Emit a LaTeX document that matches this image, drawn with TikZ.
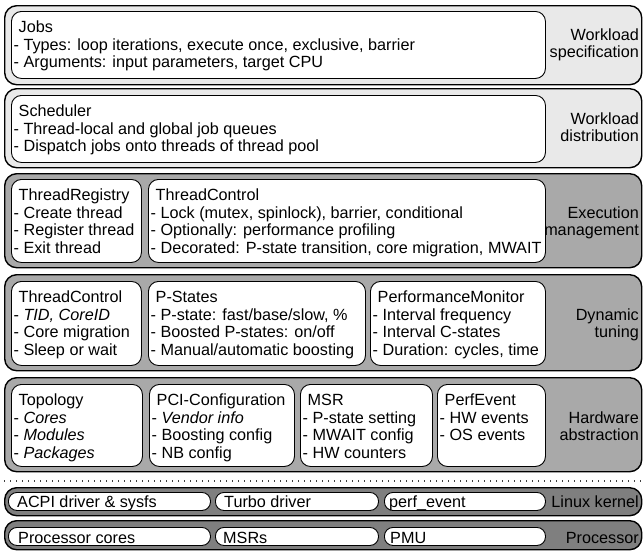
\documentclass[tikz,border=0pt]{standalone}
\usepackage{fontspec}
\setmainfont{Liberation Sans}
\definecolor{bandlight}{HTML}{E9E9E9}
\definecolor{bandmid}{HTML}{A9A9A9}
\definecolor{banddark}{HTML}{7F7F7F}
\newcommand\mkbox[6]{\node[#2, anchor=north west, inner sep=0pt, minimum width={#5-#3}, minimum height={#6-#4}] (#1) at (#3,#4) {};}
\newcommand\ttl[1]{\strut\hspace*{5pt}#1}
\begin{document}
\begin{tikzpicture}[x=1pt,y=-1pt,
  band/.style={draw=black, line width=1.4pt, rounded corners=12pt},
  inbox/.style={draw=black, fill=white, line width=0.9pt, rounded corners=10pt},
  pill/.style={draw=black, fill=white, line width=0.9pt, rounded corners=8.5pt},
  txt/.style={anchor=north west, inner sep=0pt, align=left, font=\fontsize{16.2}{17.5}\selectfont},
  lbl/.style={anchor=north east, inner sep=0pt, align=right, font=\fontsize{16.2}{17.5}\selectfont},
  ptxt/.style={anchor=base west, inner sep=0pt, font=\fontsize{16.2}{17.5}\selectfont},
  plbl/.style={anchor=base east, inner sep=0pt, font=\fontsize{16.2}{17.5}\selectfont},
  dotline/.style={line width=1.2pt, black!75, dash pattern=on 1.2pt off 4.8pt}
]
\useasboundingbox (0,0) rectangle (644,550);
% bands
\mkbox{bandA}{band, fill=bandlight}{4}{5}{641}{84}
\mkbox{bandB}{band, fill=bandlight}{4}{88}{641}{167}
\mkbox{bandC}{band, fill=bandmid}{4}{173}{641}{267}
\mkbox{bandD}{band, fill=bandmid}{4}{274}{641}{370}
\mkbox{bandE}{band, fill=bandmid}{4}{377}{641}{471}
\coordinate (dl) at (4,481);
\coordinate (dr) at (641,481);
\draw[dotline] (dl) -- (dr);
\mkbox{bandF}{band, fill=banddark}{4}{487}{641}{515}
\mkbox{bandG}{band, fill=banddark}{4}{520}{641}{549}
% inner boxes
\mkbox{jobs}{inbox}{11}{11}{545}{78}
\mkbox{sched}{inbox}{11}{95}{545}{162}
\mkbox{treg}{inbox}{11}{179}{141}{262}
\mkbox{tctl}{inbox}{148}{179}{545}{262}
\mkbox{tctlb}{inbox}{11}{281}{141}{365}
\mkbox{pst}{inbox}{148}{281}{365}{365}
\mkbox{pmon}{inbox}{370}{281}{545}{365}
\mkbox{topo}{inbox}{11}{384}{142}{466}
\mkbox{pci}{inbox}{149}{384}{294}{466}
\mkbox{msr}{inbox}{300}{384}{432}{466}
\mkbox{pev}{inbox}{437}{384}{545}{466}
% pills
\mkbox{acpi}{pill}{8}{492}{210}{510}
\mkbox{turbo}{pill}{215}{492}{378}{510}
\mkbox{perf}{pill}{384}{492}{545}{510}
\mkbox{cores}{pill}{8}{527}{210}{545}
\mkbox{msrs}{pill}{215}{527}{378}{545}
\mkbox{pmu}{pill}{384}{527}{545}{545}
% texts
\node[txt] (jobst) at (13.5,20.25) {\ttl{Jobs}\\- Types: loop iterations, execute once, exclusive, barrier\\- Arguments: input parameters, target CPU};
\node[txt] (schedt) at (13.5,104.25) {\ttl{Scheduler}\\- Thread-local and global job queues\\- Dispatch jobs onto threads of thread pool};
\node[txt] (tregt) at (13.5,188.25) {\ttl{ThreadRegistry}\\- Create thread\\- Register thread\\- Exit thread};
\node[txt] (tctlt) at (150.5,188.25) {\ttl{ThreadControl}\\- Lock (mutex, spinlock), barrier, conditional\\- Optionally: performance profiling\\- Decorated: P-state transition, core migration, MWAIT};
\node[txt] (tctlbt) at (13.5,290.25) {\ttl{ThreadControl}\\- \textit{TID, CoreID}\\- Core migration\\- Sleep or wait};
\node[txt] (pstt) at (150.5,290.25) {\ttl{P-States}\\- P-state: fast/base/slow, \%\\- Boosted P-states: on/off\\- Manual/automatic boosting};
\node[txt] (pmont) at (372.5,290.25) {\ttl{PerformanceMonitor}\\- Interval frequency\\- Interval C-states\\- Duration: cycles, time};
\node[txt] (topot) at (13.5,393.25) {\ttl{Topology}\\- \textit{Cores}\\- \textit{Modules}\\- \textit{Packages}};
\node[txt] (pcit) at (151.5,393.25) {\ttl{PCI-Configuration}\\- \textit{Vendor info}\\- Boosting config\\- NB config};
\node[txt] (msrt) at (302.5,393.25) {\ttl{MSR}\\- P-state setting\\- MWAIT config\\- HW counters};
\node[txt] (pevt) at (439.5,393.25) {\ttl{PerfEvent}\\- HW events\\- OS events};
% pill texts
\node[ptxt] (acpit) at (17,507) {ACPI driver \& sysfs};
\node[ptxt] (turbot) at (224,507) {Turbo driver};
\node[ptxt] (perft) at (389,507) {perf\_event};
\node[ptxt] (corest) at (18,543) {Processor cores};
\node[ptxt] (msrst) at (223,543) {MSRs};
\node[ptxt] (pmut) at (390,543) {PMU};
% band labels
\node[lbl] (lblA) at (639,27.75) {\strut Workload\\specification};
\node[lbl] (lblB) at (639,111.75) {\strut Workload\\distribution};
\node[lbl] (lblC) at (639,205.75) {\strut Execution\\management};
\node[lbl] (lblD) at (639,307.75) {\strut Dynamic\\tuning};
\node[lbl] (lblE) at (639,410.75) {\strut Hardware\\abstraction};
\node[plbl] (lblF) at (639,507) {Linux kernel};
\node[plbl] (lblG) at (639,543) {Processor};
\end{tikzpicture}
\end{document}
